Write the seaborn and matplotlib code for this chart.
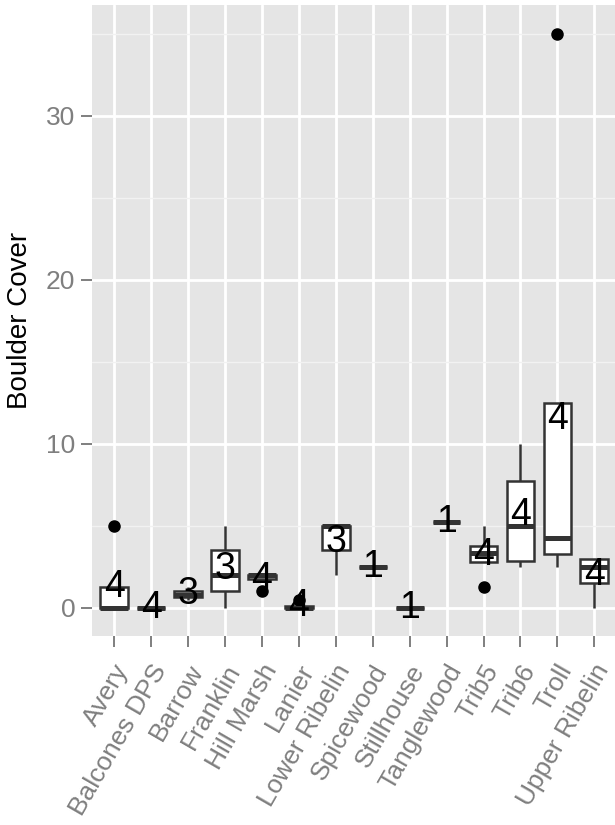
import matplotlib
matplotlib.use("Agg")
import matplotlib.pyplot as plt
import matplotlib.transforms as mtransforms
import numpy as np
import pandas as pd
import seaborn as sns

# Boulder cover observations per site
sites = ["Avery", "Balcones DPS", "Barrow", "Franklin", "Hill Marsh", "Lanier",
         "Lower Ribelin", "Spicewood", "Stillhouse", "Tanglewood", "Trib5",
         "Trib6", "Troll", "Upper Ribelin"]
avery = [0, 0, 0, 5]
balcones_dps = [0, 0, 0, 0]
barrow = [0.5, 0.75, 1.25]
franklin = [0, 2, 5]
hill_marsh = [1, 2, 2, 2]
lanier = [0, 0, 0, 0.5]
lower_ribelin = [2, 5, 5]
spicewood = [2.5]
stillhouse = [0]
tanglewood = [5.25]
trib5 = [1.25, 3.33, 3.33, 5]
trib6 = [2.5, 3, 7, 10]
troll = [2.5, 3.5, 5, 35]
upper_ribelin = [0, 2, 3, 3]

site_values = [avery, balcones_dps, barrow, franklin, hill_marsh, lanier,
               lower_ribelin, spicewood, stillhouse, tanglewood, trib5,
               trib6, troll, upper_ribelin]

y_ticks = [0, 10, 20, 30]
y_minor = [5, 15, 25, 35]

df = pd.DataFrame(
    [(s, v) for s, vals in zip(sites, site_values) for v in vals],
    columns=["Site", "Boulder Cover"],
)

sns.set_theme(style="darkgrid")
plt.rcParams["font.family"] = ["Liberation Sans", "DejaVu Sans"]

W, H = 615, 825
fig = plt.figure(figsize=(W / 100, H / 100), dpi=100)
left, right, top, bottom = 92, 616.5, 5, 636.4
ax = fig.add_axes([left / W, 1 - bottom / H, (right - left) / W, (bottom - top) / H])

sns.boxplot(
    data=df, x="Site", y="Boulder Cover", order=sites, ax=ax,
    color="white", linecolor="#333333", linewidth=1.8, width=0.75,
    fliersize=8, showcaps=False,
    flierprops=dict(marker="o", markerfacecolor="black", markeredgecolor="black"),
    medianprops=dict(linewidth=3.6, color="#333333"),
    whis=1.5,
)

# sample size printed at each site's mean
stats = df.groupby("Site", sort=False)["Boulder Cover"].agg(["mean", "count"])
for i, s in enumerate(sites):
    ax.text(i, stats.loc[s, "mean"], str(int(stats.loc[s, "count"])),
            ha="center", va="center", fontsize=27, color="black", zorder=10)

ax.set_xlim(-0.6, len(sites) - 0.4)
ax.set_ylim(-1.75, 36.75)
ax.set_yticks(y_ticks)
ax.set_yticks(y_minor, minor=True)
ax.set_facecolor("#E5E5E5")
ax.set_axisbelow(True)
ax.grid(which="major", color="white", linewidth=2.0)
ax.grid(which="minor", axis="y", color="#F2F2F2", linewidth=1.0)
for sp in ax.spines.values():
    sp.set_visible(False)

ax.tick_params(axis="both", which="major", length=8, width=1.4,
               color="#7F7F7F", labelcolor="#7F7F7F", labelsize=19, pad=4,
               bottom=True, left=True)
ax.tick_params(axis="x", which="major", pad=9)
ax.tick_params(axis="both", which="minor", length=0)

ax.set_xlabel("")
ax.set_ylabel("Boulder Cover", fontsize=20, color="black", labelpad=9)

offset = mtransforms.ScaledTranslation(-1 / 100, 0, fig.dpi_scale_trans)
for lab in ax.get_xticklabels():
    lab.set_rotation(60)
    lab.set_ha("right")
    lab.set_va("top")
    lab.set_rotation_mode("anchor")
    lab.set_transform(lab.get_transform() + offset)

fig.savefig("out.png", dpi=100)
